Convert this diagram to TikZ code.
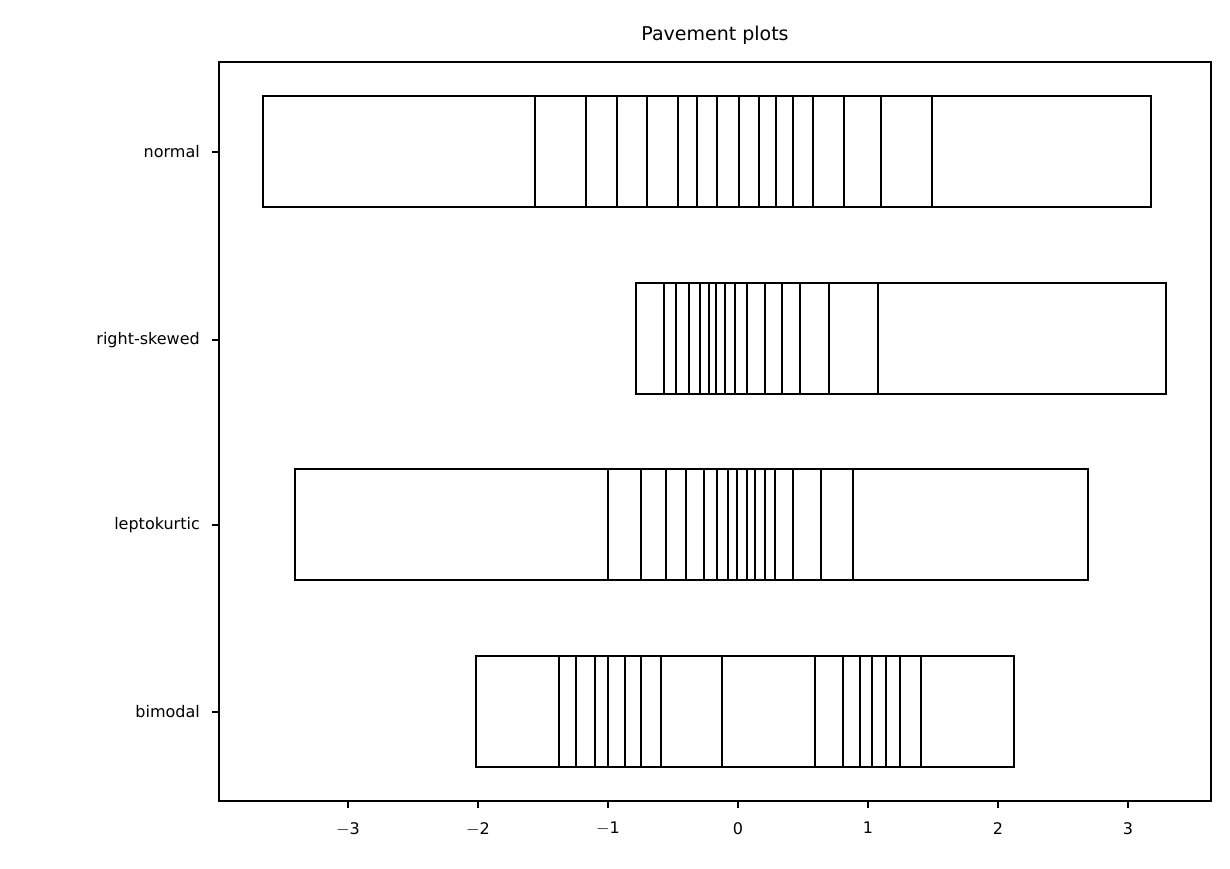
\documentclass[tikz,border=0pt]{standalone}
\usepackage{fontspec}
\setmainfont{DejaVu Sans}
\begin{document}
\begin{tikzpicture}[x=1pt,y=-1pt]
\tikzstyle{tick} = [line width=1.2pt]
\tikzstyle{pave} = [line width=2.4pt]
\tikzstyle{lbl} = [font=\fontsize{16}{18}\selectfont, inner sep=0pt]
\useasboundingbox (0,0) rectangle (1230,869);

% title and frame
\node (title) [lbl, font=\fontsize{19}{22}\selectfont] at (715,35) {Pavement plots};
\draw[line width=1.3pt] (219,62) rectangle (1211,801);

% x ticks
\foreach \v/\t in {-3/$-$3,-2/$-$2,-1/$-$1,0/0,1/1,2/2,3/3} {
  \draw[tick] (738+130*\v,801) -- (738+130*\v,808);
  \node[lbl, anchor=north] at (738+130*\v,822) {\t};
}

% rows
\foreach \yc/\name in {152/normal,340/right-skewed,525/leptokurtic,712/bimodal} {
  \draw[tick] (219,\yc) -- (212,\yc);
  \node[lbl, anchor=east] at (200,\yc) {\name};
}

% normal
\draw[pave] (263,96) rectangle (1151,207);
\foreach \x in {535,586,617,647,678,697,717,739,759,776,793,813,844,881,932}
  \draw[pave] (\x,96) -- (\x,207);
% right-skewed
\draw[pave] (636,283) rectangle (1166,394);
\foreach \x in {664,676,689,700,709,716,725,735,747,765,782,800,829,878}
  \draw[pave] (\x,283) -- (\x,394);
% leptokurtic
\draw[pave] (295,469) rectangle (1088,580);
\foreach \x in {608,641,666,686,704,717,728,737,747,755,765,775,793,821,853}
  \draw[pave] (\x,469) -- (\x,580);
% bimodal
\draw[pave] (476,656) rectangle (1014,767);
\foreach \x in {559,576,595,608,625,641,661,722,815,843,860,872,886,900,921}
  \draw[pave] (\x,656) -- (\x,767);
\end{tikzpicture}
\end{document}
